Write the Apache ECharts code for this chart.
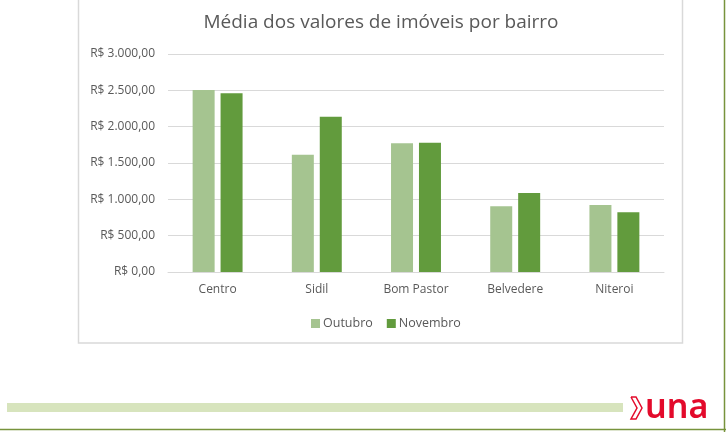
<!DOCTYPE html>
<html>
<head>
<meta charset="utf-8">
<script src="https://cdn.jsdelivr.net/npm/echarts@6/dist/echarts.min.js"></script>
<style>
  html, body { margin: 0; padding: 0; background: #fff; }
  #chart { width: 726px; height: 432px; }
</style>
</head>
<body>
<div id="chart"></div>
<script>
const bairros = ['Centro', 'Sidil', 'Bom Pastor', 'Belvedere', 'Niteroi'];
const outubro = [2505, 1612, 1772, 905, 922];
const novembro = [2460, 2137, 1780, 1088, 822];
const yTicks = [0, 500, 1000, 1500, 2000, 2500, 3000];

function brl(v) {
  const parts = Math.round(v).toString().replace(/\B(?=(\d{3})+(?!\d))/g, '.');
  return 'R$ ' + parts + ',00';
}

const chart = echarts.init(document.getElementById('chart'), null, { renderer: 'canvas' });
const font = "'Open Sans', 'Noto Sans', sans-serif";

chart.setOption({
  animation: false,
  textStyle: { fontFamily: font },
  title: {
    text: 'Média dos valores de imóveis por bairro',
    left: 376, top: 8, textAlign: 'center',
    textStyle: { fontSize: 19, fontWeight: 'normal', color: '#595959', fontFamily: font }
  },
  legend: {
    data: ['Outubro', 'Novembro'],
    left: 306, top: 312, itemWidth: 9, itemHeight: 9, itemGap: 14,
    icon: 'rect',
    textStyle: { fontSize: 12.5, color: '#595959', padding: [0, 0, 0, -2] }
  },
  grid: { left: 168, right: 62, top: 54, bottom: 160 },
  xAxis: {
    type: 'category', data: bairros,
    axisLine: { lineStyle: { color: '#d9d9d9' } },
    axisTick: { show: false },
    axisLabel: { color: '#595959', fontSize: 12, margin: 12 }
  },
  yAxis: {
    type: 'value', min: yTicks[0], max: yTicks[yTicks.length - 1], interval: 500,
    axisLine: { show: false }, axisTick: { show: false },
    splitLine: { lineStyle: { color: '#d9d9d9' } },
    axisLabel: { color: '#595959', fontSize: 12, margin: 13, formatter: brl }
  },
  series: [
    { name: 'Outubro', type: 'bar', data: outubro, barWidth: 22, barGap: '27%',
      itemStyle: { color: '#a5c490' } },
    { name: 'Novembro', type: 'bar', data: novembro, barWidth: 22,
      itemStyle: { color: '#629b3d' } }
  ],
  graphic: [
    { type: 'rect', shape: { x: 78.5, y: -2, width: 604, height: 345 },
      style: { fill: 'none', stroke: '#d9d9d9', lineWidth: 1.5 }, silent: true },
    { type: 'rect', shape: { x: 7, y: 403, width: 616, height: 9 },
      style: { fill: '#d7e4bd' }, silent: true },
    { type: 'line', shape: { x1: 0, y1: 429.5, x2: 726, y2: 429.5 },
      style: { stroke: '#77933c', lineWidth: 1.5 } },
    { type: 'line', shape: { x1: 724.5, y1: 0, x2: 724.5, y2: 432 },
      style: { stroke: '#77933c', lineWidth: 1.5 } },
    { type: 'polyline',
      shape: { points: [[631, 397], [636, 397], [642, 408], [636, 419], [631, 419], [637, 408], [631, 397]] },
      style: { fill: 'none', stroke: '#e30a2b', lineWidth: 1.5 } },
    { type: 'text', x: 645, y: 391,
      style: { text: 'una', fill: '#e30a2b', font: "600 34px 'Noto Sans', sans-serif" } }
  ]
});
</script>
</body>
</html>
